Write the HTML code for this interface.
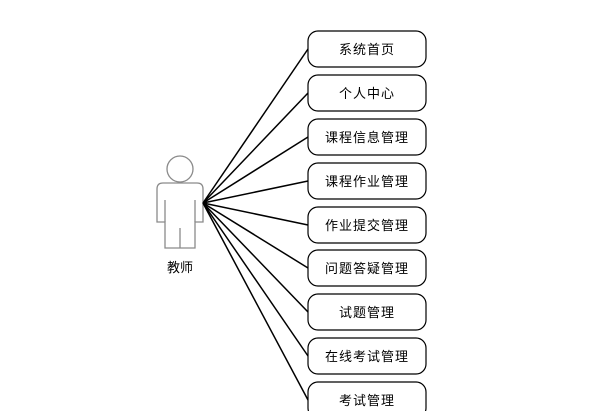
<!DOCTYPE html>
<html><head><meta charset="utf-8"><style>
html,body{margin:0;padding:0;background:#fff;}
</style></head><body>
<svg width="600" height="411" viewBox="0 0 600 411" xmlns="http://www.w3.org/2000/svg" style="display:block">
<g fill="none" stroke="#8a8a8a" stroke-width="1.3">
<circle cx="180" cy="169" r="13"/>
<path d="M163,183 H197 Q203,183 203,189 V222 H195 V248 H165 V222 H157 V189 Q157,183 163,183 Z"/>
<path d="M165,200 V222 M195,200 V222 M180,228 V248"/>
</g>
<text x="180" y="272" font-family="Liberation Sans, Noto Sans CJK SC, sans-serif" font-size="13" text-anchor="middle" fill="#000">教师</text>
<g stroke="#000" stroke-width="1.5">
<line x1="203" y1="203" x2="308" y2="49"/>
<line x1="203" y1="203" x2="308" y2="93"/>
<line x1="203" y1="203" x2="308" y2="137"/>
<line x1="203" y1="203" x2="308" y2="181"/>
<line x1="203" y1="203" x2="308" y2="225"/>
<line x1="203" y1="203" x2="308" y2="268"/>
<line x1="203" y1="203" x2="308" y2="312"/>
<line x1="203" y1="203" x2="308" y2="356"/>
<line x1="203" y1="203" x2="308" y2="400"/>
</g>
<g fill="#fff" stroke="#000" stroke-width="1.2">
<rect x="308" y="31" width="118" height="36" rx="10"/>
<rect x="308" y="75" width="118" height="36" rx="10"/>
<rect x="308" y="119" width="118" height="36" rx="10"/>
<rect x="308" y="163" width="118" height="36" rx="10"/>
<rect x="308" y="207" width="118" height="36" rx="10"/>
<rect x="308" y="250" width="118" height="36" rx="10"/>
<rect x="308" y="294" width="118" height="36" rx="10"/>
<rect x="308" y="338" width="118" height="36" rx="10"/>
<rect x="308" y="382" width="118" height="36" rx="10"/>
</g>
<g font-family="Liberation Sans, Noto Sans CJK SC, sans-serif" font-size="13" text-anchor="middle" fill="#000" letter-spacing="1">
<text x="367" y="54">系统首页</text>
<text x="367" y="98">个人中心</text>
<text x="367" y="142">课程信息管理</text>
<text x="367" y="186">课程作业管理</text>
<text x="367" y="230">作业提交管理</text>
<text x="367" y="273">问题答疑管理</text>
<text x="367" y="317">试题管理</text>
<text x="367" y="361">在线考试管理</text>
<text x="367" y="405">考试管理</text>
</g>
</svg>
</body></html>
